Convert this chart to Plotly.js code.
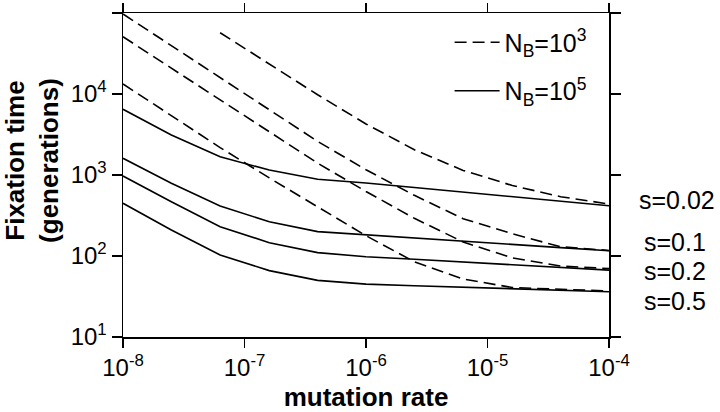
<!DOCTYPE html>
<html>
<head>
<meta charset="utf-8">
<script src="https://cdn.plot.ly/plotly-3.0.1.min.js"></script>
<style>html,body{margin:0;padding:0;background:#fff;}#chart{width:720px;height:412px;}</style>
</head>
<body>
<div id="chart"></div>
<script>
// mutation rate (x)
var mutationRate = [1e-8, 2.5e-8, 6.3e-8, 1.6e-7, 4e-7, 1e-6, 2.5e-6, 6.3e-6, 1.6e-5, 4e-5, 1e-4];

// N_B = 10^3 (dashed)
var dashS002 = [null, null, 57100, 23700, 9780, 4270, 2050, 1140, 742, 540, 438];
var dashS01  = [97200, 39500, 15900, 6440, 2600, 1160, 561, 289, 188, 130, 117];
var dashS02  = [50900, 20900, 8480, 3450, 1400, 626, 292, 149, 95, 75, 70];
var dashS05  = [13300, 5400, 2180, 920, 403, 178, 85, 52, 40.8, 38.6, 37];

// N_B = 10^5 (solid)
var solidS002 = [6470, 3120, 1680, 1150, 885, 797, 701, 617, 543, 478, 418];
var solidS01  = [1607, 790, 414, 265, 200, 182, 167, 153, 139, 127, 116];
var solidS02  = [972, 468, 230, 146, 110, 98, 91, 84, 79, 72, 67];
var solidS05  = [448, 209, 103, 66, 50, 45, 43, 41.4, 39.7, 38, 36.2];

var xTickVals = [1e-8, 1e-7, 1e-6, 1e-5, 1e-4];
var xTickText = ['10<sup>-8</sup>', '10<sup>-7</sup>', '10<sup>-6</sup>', '10<sup>-5</sup>', '10<sup>-4</sup>'];
var yTickVals = [10, 100, 1000, 10000, 100000];
var yTickText = ['10<sup>1</sup>', '10<sup>2</sup>', '10<sup>3</sup>', '10<sup>4</sup>', '10<sup>5</sup>'];

var sLabels = ['s=0.02', 's=0.1', 's=0.2', 's=0.5'];
var legendNames = ['N<sub>B</sub>=10<sup>3</sup>', 'N<sub>B</sub>=10<sup>5</sup>'];

var FONT = 'Liberation Sans, Arial, Helvetica, sans-serif';

function tr(y, dashed, showLeg) {
  return {
    x: mutationRate, y: y, type: 'scatter', mode: 'lines',
    line: {color: '#000', width: 1.6, dash: dashed ? '12px,6px' : 'solid'},
    name: dashed ? legendNames[0] : legendNames[1],
    legendgroup: dashed ? 'a' : 'b',
    showlegend: !!showLeg, hoverinfo: 'skip', connectgaps: false
  };
}

var data = [
  tr(dashS002, true, true), tr(dashS01, true), tr(dashS02, true), tr(dashS05, true),
  tr(solidS002, false, true), tr(solidS01, false), tr(solidS02, false), tr(solidS05, false)
];

var sLabelY = [2.691, 2.173, 1.815, 1.444];
var sLabelShift = [28, 33, 33, 33];
var annotations = sLabels.map(function (t, i) {
  return {text: t, xref: 'paper', x: 1, xshift: sLabelShift[i], xanchor: 'left',
          yref: 'y', y: sLabelY[i], yanchor: 'middle', showarrow: false,
          font: {family: FONT, size: 25, color: '#000'}};
});

var layout = {
  width: 720, height: 412,
  margin: {l: 123, r: 111, t: 13, b: 75, pad: 0},
  paper_bgcolor: '#fff', plot_bgcolor: '#fff',
  showlegend: true,
  legend: {x: 0.672, y: 0.98, xanchor: 'left', yanchor: 'top', bgcolor: 'rgba(0,0,0,0)',
           font: {family: FONT, size: 25, color: '#000'}, traceorder: 'grouped',
           tracegroupgap: 13, itemwidth: 45},
  xaxis: {
    type: 'log', range: [-8, -4], tickvals: xTickVals, ticktext: xTickText,
    ticks: 'outside', ticklen: 9, tickwidth: 1.5, tickcolor: '#000',
    showline: true, linewidth: 1.5, linecolor: '#000', mirror: 'ticks',
    showgrid: false, zeroline: false,
    tickfont: {family: FONT, size: 24, color: '#000'},
    title: {text: 'mutation rate', font: {family: FONT, size: 26, color: '#000', weight: 'bold'}, standoff: 28}
  },
  yaxis: {
    type: 'log', range: [1, 5], tickvals: yTickVals, ticktext: yTickText,
    ticks: 'outside', ticklen: 10, tickwidth: 1.5, tickcolor: '#000',
    showline: true, linewidth: 1.5, linecolor: '#000', mirror: 'ticks',
    showgrid: false, zeroline: false,
    tickfont: {family: FONT, size: 24, color: '#000'},
    title: {text: '&nbsp;&nbsp;&nbsp;&nbsp;Fixation time<br>&nbsp;&nbsp;&nbsp;&nbsp;(generations)', font: {family: FONT, size: 26, color: '#000', weight: 'bold'}, standoff: 8}
  },
  annotations: annotations
};

Plotly.newPlot('chart', data, layout, {displayModeBar: false, staticPlot: true});
</script>
</body>
</html>
